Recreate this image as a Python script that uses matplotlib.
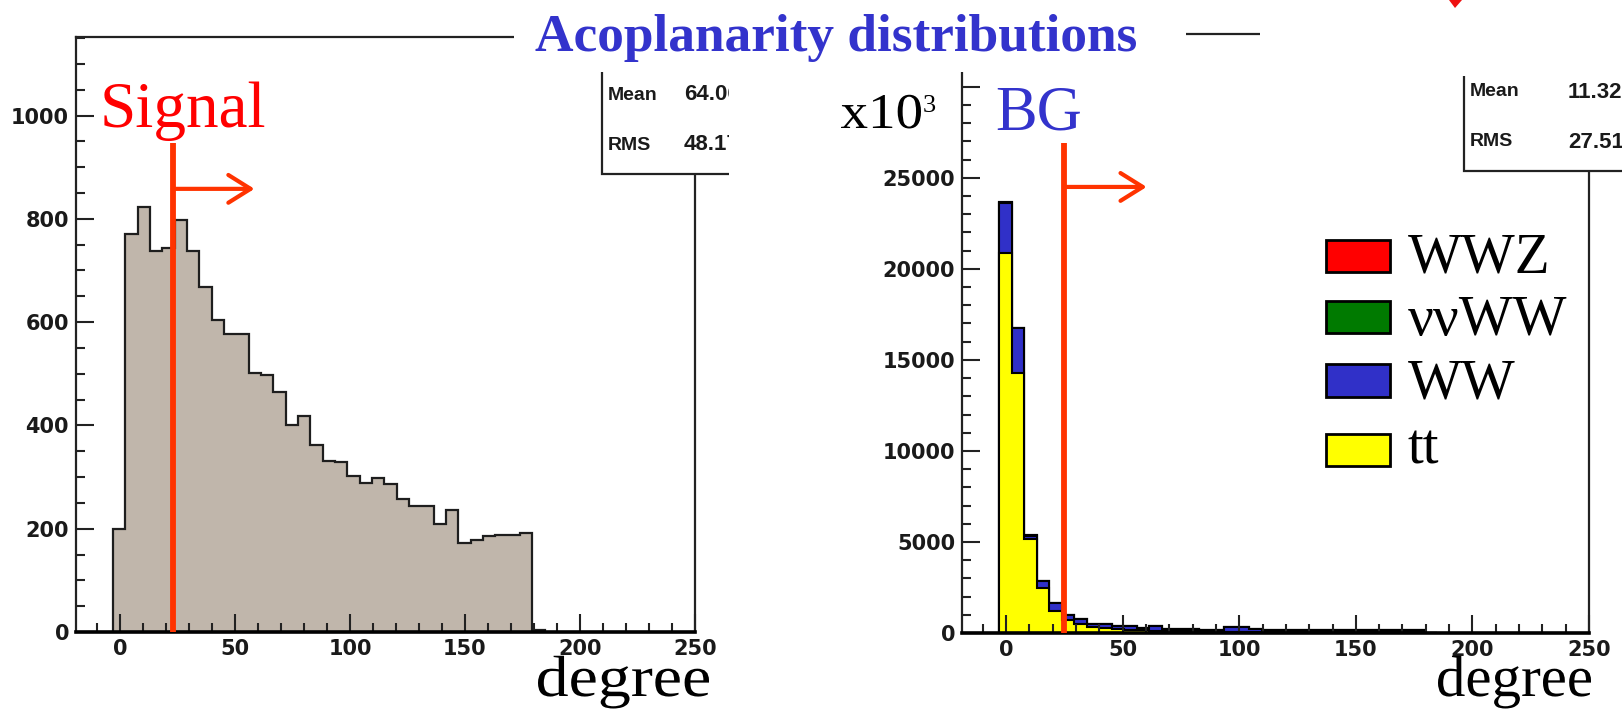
import numpy as np
import matplotlib
matplotlib.use('Agg')
import matplotlib.pyplot as plt
from matplotlib.patches import Rectangle, Polygon, PathPatch
from matplotlib.ticker import MultipleLocator
from matplotlib.textpath import TextPath
from matplotlib.font_manager import FontProperties
from matplotlib.transforms import Affine2D

# acoplanarity binning (degrees)
bin_lo = -3.0
bin_hi = 184.6
n_bins = 35

# signal events per bin
signal = [200, 771, 822, 738, 744, 798, 737, 668, 604, 577, 577, 502, 498, 464,
          400, 419, 362, 331, 329, 302, 289, 299, 286, 257, 244, 244, 209, 236,
          172, 179, 186, 188, 188, 191, 4]

# background components per bin (stacked: tt, WW, nunuWW, WWZ)
tt = [20860, 14270, 5165, 2470, 1190, 740, 520, 330, 290, 220, 190, 150, 120, 110,
      100, 95, 80, 70, 70, 70, 65, 60, 60, 55, 55, 55, 55, 60, 70, 80, 85, 90,
      90, 90, 0]
ww = [2770, 2470, 180, 400, 440, 270, 250, 166, 200, 148, 178, 126, 248, 110,
      120, 125, 104, 114, 280, 280, 155, 105, 105, 110, 110, 110, 110, 105, 95,
      85, 80, 75, 75, 75, 0]
nnww = [30, 25, 12, 8, 6, 5, 4, 4, 3, 3, 3, 3, 3, 3, 3, 3, 3, 3, 3, 3, 3, 3, 3,
        3, 3, 3, 3, 3, 3, 3, 3, 3, 3, 3, 0]
wwz = [5, 4, 3, 2, 2, 1, 1, 1, 1, 1, 1, 1, 1, 1, 1, 1, 1, 1, 1, 1, 1, 1, 1, 1,
       1, 1, 1, 1, 1, 1, 1, 1, 1, 1, 0]

bg_names = ['WWZ', '\u03bd\u03bdWW', 'WW', 'tt']
bg_colors = ['#ff0000', '#007a00', '#3030c8', '#ffff00']

signal_cut = 23
bg_cut = 25
signal_stats = [('Mean', '64.06'), ('RMS', '48.17')]
bg_stats = [('Mean', '11.32'), ('RMS', '27.51')]

CUT_RED = '#ff3300'
W, H = 1622, 715

plt.rcParams['font.family'] = ['DejaVu Sans']
fig = plt.figure(figsize=(W / 100, H / 100), dpi=100)
serif = ['Liberation Serif', 'DejaVu Serif']


def rect(x0, y0, x1, y1):
    # pixel box, origin top-left -> figure fraction
    return [x0 / W, 1 - y1 / H, (x1 - x0) / W, (y1 - y0) / H]


def fxy(x, y):
    return x / W, 1 - y / H


def wide_text(s, x, y, em, width, color, weight='normal'):
    # serif text with baseline-left at pixel (x, y), stretched to an ink width
    prop = FontProperties(family='Liberation Serif', weight=weight)
    tp = TextPath((0, 0), s, size=em, prop=prop)
    ext = tp.get_extents()
    sx = width / ext.width
    tr = (Affine2D().translate(-ext.x0, 0).scale(sx, 1).translate(x, H - y)
          .scale(1 / W, 1 / H) + fig.transFigure)
    fig.add_artist(PathPatch(tp, transform=tr, facecolor=color,
                             edgecolor='none', zorder=6))


def style_axes(ax, xmin, ymax, ymajor, yminor):
    ax.set_xlim(xmin, 250)
    ax.set_ylim(0, ymax)
    ax.xaxis.set_major_locator(MultipleLocator(50))
    ax.xaxis.set_minor_locator(MultipleLocator(10))
    ax.yaxis.set_major_locator(MultipleLocator(ymajor))
    ax.yaxis.set_minor_locator(MultipleLocator(yminor))
    ax.tick_params(which='both', direction='in', width=1.5, color='#222222',
                   top=False, right=False)
    ax.tick_params(which='major', length=13, labelsize=15, pad=5,
                   labelcolor='#1a1a1a')
    ax.tick_params(which='minor', length=6.5)
    for s in ax.spines.values():
        s.set_linewidth(1.6)
        s.set_color('#222222')
    ax.spines['bottom'].set_linewidth(2.6)
    ax.spines['bottom'].set_color('black')
    for lab in ax.get_xticklabels() + ax.get_yticklabels():
        lab.set_fontweight('bold')


edges = np.linspace(bin_lo, bin_hi, n_bins + 1)
cut_arrow = dict(arrowstyle='->,head_length=0.8,head_width=0.5',
                 color=CUT_RED, lw=3, mutation_scale=20, shrinkA=0, shrinkB=0)

# ---- signal ----
ax1 = fig.add_axes(rect(76, 37, 695, 632))
ax1.stairs(signal, edges, fill=True, facecolor='#c0b6ab', edgecolor='#1e1e1e',
           linewidth=1.6)
style_axes(ax1, -19.1, 1152, 200, 50)
ax1.vlines(signal_cut, 0, 947, color=CUT_RED, lw=4.2, zorder=4)
ax1.annotate('', xy=(58.5, 858), xytext=(signal_cut, 858),
             arrowprops=cut_arrow, zorder=4)

# ---- background stack ----
ax2 = fig.add_axes(rect(962, 34, 1589, 633))
layers = [np.array(tt), np.array(ww), np.array(nnww), np.array(wwz)]
cum = np.cumsum(layers, axis=0)
for level, color in zip(cum[::-1], bg_colors):
    ax2.stairs(level, edges, fill=True, facecolor=color, edgecolor='black',
               linewidth=1.5)
ax2.set_yticks(range(0, 30001, 5000),
               ['0', '5000', '10000', '15000', '20000', '25000', ''])
style_axes(ax2, -18.9, 32900, 5000, 1000)
ax2.vlines(bg_cut, 0, 26900, color=CUT_RED, lw=4.2, zorder=4)
ax2.annotate('', xy=(60.3, 24500), xytext=(bg_cut, 24500),
             arrowprops=cut_arrow, zorder=4)

# ---- statistics boxes ----
for (bx, by1, ty, dx, stats) in [(602, 174, 95, 82, signal_stats),
                                 (1464, 171, 92, 104, bg_stats)]:
    fig.add_artist(Rectangle(fxy(bx, by1), 160 / W, (by1 - 60) / H,
                             transform=fig.transFigure, facecolor='white',
                             edgecolor='#222222', lw=1.6, zorder=2))
    for i, (name, val) in enumerate(stats):
        yy = ty + 50 * i
        fig.text(*fxy(bx + 6, yy), name, fontsize=14, fontweight='bold',
                 family='Liberation Sans', va='center', ha='left',
                 color='#1a1a1a', zorder=3)
        fig.text(*fxy(bx + dx, yy), val, fontsize=16, fontweight='bold',
                 family='Liberation Sans', va='center', ha='left',
                 color='#1a1a1a', zorder=3)

# white areas of the slide covering parts of the frames
for box in [(514, 0, 740, 72), (729, 40, 800, 180), (930, 0, 1186, 72),
            (1260, 0, 1622, 76)]:
    x0, y0, x1, y1 = box
    fig.add_artist(Rectangle(fxy(x0, y1), (x1 - x0) / W, (y1 - y0) / H,
                             transform=fig.transFigure, facecolor='white',
                             edgecolor='none', zorder=4))
fig.add_artist(Polygon([fxy(1449, 0), fxy(1462, 0), fxy(1455, 8)],
                       closed=True, transform=fig.transFigure,
                       facecolor='#ee1111', edgecolor='none', zorder=5))

# ---- texts ----
fig.text(*fxy(535, 51), 'Acoplanarity distributions', fontsize=38.4,
         fontweight='bold', color='#3333cc', family=serif, va='baseline',
         zorder=6)
fig.text(*fxy(100, 127), 'Signal', fontsize=47, color='#ff0000', family=serif,
         va='baseline', zorder=6)
fig.text(*fxy(995, 130), 'BG', fontsize=45, color='#3333cc', family=serif,
         va='baseline', zorder=6)
wide_text('x10', 841, 128, 50, 80, 'black')
fig.text(*fxy(923, 112), '3', fontsize=19, color='black', family=serif,
         va='baseline', zorder=6)
wide_text('degree', 538, 696, 58, 171, 'black')
wide_text('degree', 1438, 696, 58, 153, 'black')

# legend
leg_boxes = [(240, 272), (301, 333), (364, 397), (434, 466)]
leg_base = [272, 335, 399, 463]
for name, color, (y0, y1), yb in zip(bg_names, bg_colors, leg_boxes, leg_base):
    fig.add_artist(Rectangle(fxy(1326, y1), 64 / W, (y1 - y0) / H,
                             transform=fig.transFigure, facecolor=color,
                             edgecolor='black', lw=2, zorder=6))
    fig.text(*fxy(1408, yb), name, fontsize=41, family=serif, color='black',
             va='baseline', zorder=6)

fig.savefig('out.png', dpi=100)
